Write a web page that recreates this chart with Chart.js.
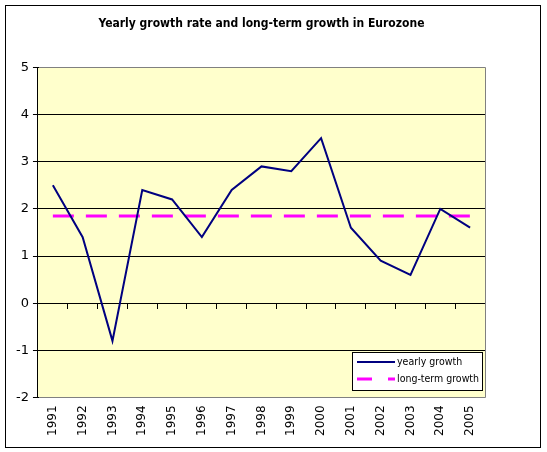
<!DOCTYPE html>
<html>
<head>
<meta charset="utf-8">
<script src="https://cdn.jsdelivr.net/npm/chart.js@4"></script>
<style>
  body { margin: 0; background: #fff; }
  #wrap { width: 547px; height: 452px; }
</style>
</head>
<body>
<div id="wrap"><canvas id="growthChart" width="547" height="452"></canvas></div>
<script>
// data
const years = ['1991','1992','1993','1994','1995','1996','1997','1998','1999','2000','2001','2002','2003','2004','2005'];
const yearlyGrowth = [2.5, 1.4, -0.8, 2.4, 2.2, 1.4, 2.4, 2.9, 2.8, 3.5, 1.6, 0.9, 0.6, 2.0, 1.6];
const longTermGrowth = [1.85, 1.85, 1.85, 1.85, 1.85, 1.85, 1.85, 1.85, 1.85, 1.85, 1.85, 1.85, 1.85, 1.85, 1.85];
const yTicks = [-2, -1, 0, 1, 2, 3, 4, 5];

const FONT = 'DejaVu Sans';

// yellow plot area + frame round the whole picture
const plotBack = {
    id: 'plotBack',
    beforeDraw(chart) {
        let c = chart.ctx, a = chart.chartArea;
        c.save();
        c.fillStyle = '#fff';
        c.fillRect(0, 0, chart.width, chart.height);
        c.fillStyle = '#FFFFCC';
        c.fillRect(a.left, a.top, a.right - a.left, a.bottom - a.top);
        c.restore();
    },
    beforeDatasetsDraw(chart) {
        // grey frame on top, right and bottom; left side stays the black y axis
        let c = chart.ctx, a = chart.chartArea;
        let l = Math.round(a.left), t = Math.round(a.top) + 0.5, r = Math.round(a.right) + 0.5, b = Math.round(a.bottom) + 0.5;
        c.save();
        c.strokeStyle = '#808080';
        c.lineWidth = 1;
        c.beginPath();
        c.moveTo(l + 1, t);
        c.lineTo(r, t);
        c.lineTo(r, b);
        c.lineTo(l + 1, b);
        c.stroke();
        c.restore();
    },
    afterDraw(chart) {
        let c = chart.ctx;
        c.save();
        c.strokeStyle = '#000';
        c.lineWidth = 1;
        c.strokeRect(5.5, 5.5, 535, 442);
        c.restore();
    }
};

// boxed legend sitting in the lower right of the plot
const boxLegend = {
    id: 'boxLegend',
    afterDatasetsDraw(chart) {
        let c = chart.ctx, a = chart.chartArea;
        let w = 130, h = 38;
        let x = Math.round(a.right) - 3 - w, y = Math.round(a.bottom) - 7 - h;
        c.save();
        c.fillStyle = '#fff';
        c.fillRect(x, y, w, h);
        c.strokeStyle = '#000';
        c.lineWidth = 1;
        c.strokeRect(x + 0.5, y + 0.5, w, h);
        c.font = '10.5px "DejaVu Sans Condensed"';
        c.textBaseline = 'middle';
        chart.data.datasets.forEach((ds, i) => {
            let ly = y + 10 + i * 17;
            c.strokeStyle = ds.borderColor;
            c.lineWidth = ds.borderWidth;
            c.setLineDash(ds.borderDash ? [15, 16] : []);
            c.beginPath();
            c.moveTo(x + 5, ly);
            c.lineTo(x + 43, ly);
            c.stroke();
            c.setLineDash([]);
            c.fillStyle = '#000';
            c.fillText(ds.label, x + 45, ly);
        });
        c.restore();
    }
};

new Chart(document.getElementById('growthChart'), {
    type: 'line',
    data: {
        labels: years,
        datasets: [{
            label: 'yearly growth',
            data: yearlyGrowth,
            borderColor: '#000080',
            borderWidth: 2,
            pointRadius: 0,
            tension: 0,
            xAxisID: 'x'
        }, {
            label: 'long-term growth',
            data: longTermGrowth,
            borderColor: '#FF00FF',
            borderWidth: 3,
            borderDash: [21, 12],
            pointRadius: 0,
            tension: 0,
            xAxisID: 'x'
        }]
    },
    options: {
        responsive: false,
        animation: false,
        layout: { padding: { left: 12, right: 62, top: 6, bottom: 16 } },
        plugins: {
            legend: { display: false },
            tooltip: { enabled: false },
            title: {
                display: true,
                fullSize: false,
                text: 'Yearly growth rate and long-term growth in Eurozone',
                color: '#000',
                font: { family: 'DejaVu Sans Condensed', size: 12, weight: 'bold' },
                padding: { top: 11, bottom: 36 }
            }
        },
        scales: {
            x: {
                type: 'category',
                position: 'bottom',
                offset: true,
                grid: { display: false },
                border: { display: false },
                ticks: {
                    color: '#000',
                    font: { family: FONT, size: 12 },
                    minRotation: 90,
                    maxRotation: 90,
                    autoSkip: false,
                    padding: 0
                }
            },
            x0: {
                type: 'category',
                position: { y: 0 },
                offset: true,
                grid: { drawOnChartArea: false, drawTicks: true, tickLength: 5, offset: true, color: '#000' },
                border: { display: true, color: '#000' },
                ticks: { display: false }
            },
            y: {
                min: yTicks[0],
                max: yTicks[yTicks.length - 1],
                afterBuildTicks(scale) { scale.ticks = yTicks.map(v => ({ value: v })); },
                grid: { color: '#000', tickLength: 5 },
                border: { display: true, color: '#000' },
                ticks: {
                    color: '#000',
                    font: { family: FONT, size: 13 },
                    padding: 4
                }
            }
        }
    },
    plugins: [plotBack, boxLegend]
});
</script>
</body>
</html>
